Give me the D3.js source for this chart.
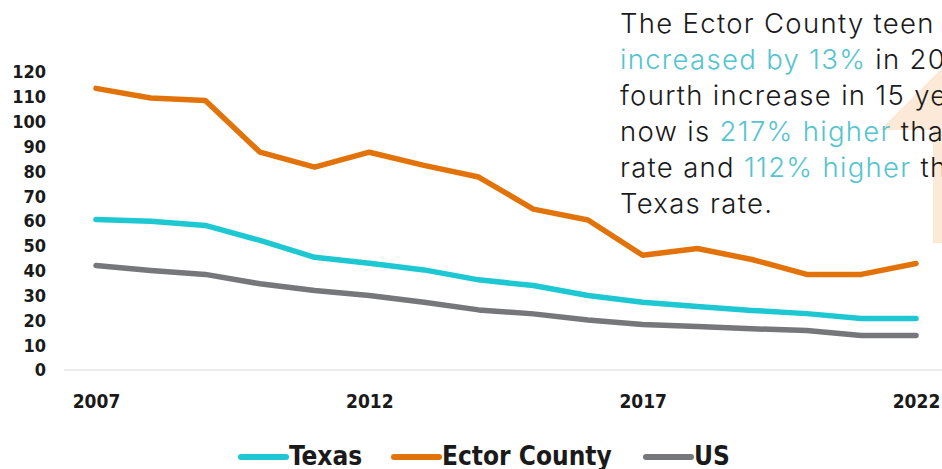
<!DOCTYPE html>
<html><head><meta charset="utf-8">
<script src="https://cdn.jsdelivr.net/npm/d3@7/dist/d3.min.js"></script>
<style>
html,body{margin:0;padding:0;background:#fff;overflow:hidden}
svg{display:block}
</style></head>
<body>
<svg id="chart" width="942" height="469"></svg>
<script>
const years = [2007,2008,2009,2010,2011,2012,2013,2014,2015,2016,2017,2018,2019,2020,2021,2022];
const texas = [60.4,59.7,58,52,45.2,42.8,40.1,36.1,33.8,29.8,27.1,25.4,23.8,22.5,20.5,20.5];
const ector = [113.2,109.3,108.3,87.5,81.5,87.5,82.2,77.5,64.6,60.2,46,48.7,44.3,38.3,38.3,42.7];
const us = [41.9,39.9,38.3,34.5,31.8,29.8,27.1,24,22.4,19.9,18.1,17.3,16.4,15.7,13.7,13.7];
const yTicks = [0,10,20,30,40,50,60,70,80,90,100,110,120];
const xTicks = [2007,2012,2017,2022];
const seriesNames = ["Texas","Ector County","US"];
const colors = {"Texas":"#1ec8d2","Ector County":"#e2730a","US":"#76777b"};
const noteLines = [
  [["The Ector County teen birth rate",false]],
  [["increased by 13%",true],[" in 2022, the",false]],
  [["fourth increase in 15 years, and",false]],
  [["now is ",false],["217% higher",true],[" than the US",false]],
  [["rate and ",false],["112% higher",true],[" than the",false]],
  [["Texas rate.",false]]
];

const svg = d3.select("#chart");
const x = d3.scaleLinear().domain([2007,2022]).range([96,916]);
const y = d3.scaleLinear().domain([0,120]).range([369.5,71.5]);

// background arrow (decorative)
svg.append("polygon")
  .attr("points","880,130 933,130 933,243 1000,243 1000,10")
  .attr("fill","#fde9d8");

// baseline axis
svg.append("line").attr("x1",64).attr("x2",942).attr("y1",370).attr("y2",370)
  .attr("stroke","#d9d9d9").attr("stroke-width",1.2);

const tickFont = "'DejaVu Sans Condensed','Liberation Sans Narrow',sans-serif";

// y axis
const yAxis = d3.axisLeft(y).tickValues(yTicks).tickSize(0).tickPadding(0);
const gy = svg.append("g").attr("transform","translate(46,0)").call(yAxis);
gy.select(".domain").remove();
gy.selectAll("text").attr("font-family",tickFont).attr("font-weight","bold")
  .attr("font-size","18px").attr("fill","#1a1a1a").attr("dy","0.36em");

// x axis
const xAxis = d3.axisBottom(x).tickValues(xTicks).tickFormat(d3.format("d")).tickSize(0).tickPadding(0);
const gx = svg.append("g").attr("transform","translate(0,401)").call(xAxis);
gx.select(".domain").remove();
gx.selectAll("text").attr("font-family",tickFont).attr("font-weight","bold")
  .attr("font-size","19px").attr("fill","#1a1a1a").attr("dy","0.36em");

// lines
const data = {"Texas":texas,"Ector County":ector,"US":us};
const line = d3.line().x((d,i)=>x(years[i])).y(d=>y(d));
["US","Texas","Ector County"].forEach(name=>{
  svg.append("path").datum(data[name]).attr("d",line)
    .attr("fill","none").attr("stroke",colors[name]).attr("stroke-width",5.5)
    .attr("stroke-linejoin","round").attr("stroke-linecap","round");
});

// note text
const note = svg.append("text").attr("x",620).attr("y",33)
  .attr("font-family","Inter,'Open Sans',sans-serif").attr("font-weight",300)
  .attr("font-size","27.5px").attr("letter-spacing","1.3px").attr("fill","#1a1a1a");
noteLines.forEach((ln,i)=>{
  ln.forEach((seg,j)=>{
    const t = note.append("tspan").text(seg[0]).attr("fill",seg[1]?"#55c4d0":"#1a1a1a")
      .style("white-space","pre");
    if(j===0) t.attr("x",620).attr("y",33+i*36);
  });
});

// legend
const legPos = [{n:"Texas",x:238},{n:"Ector County",x:391},{n:"US",x:643}];
const lg = svg.append("g");
legPos.forEach(p=>{
  lg.append("line").attr("x1",p.x+3).attr("x2",p.x+48).attr("y1",457).attr("y2",457)
    .attr("stroke",colors[p.n]).attr("stroke-width",6).attr("stroke-linecap","round");
  lg.append("text").attr("x",p.x+51).attr("y",456).attr("dy","0.36em")
    .attr("font-family",tickFont).attr("font-weight","bold").attr("font-size","26px")
    .attr("fill","#1a1a1a").text(p.n);
});
</script>
</body></html>
